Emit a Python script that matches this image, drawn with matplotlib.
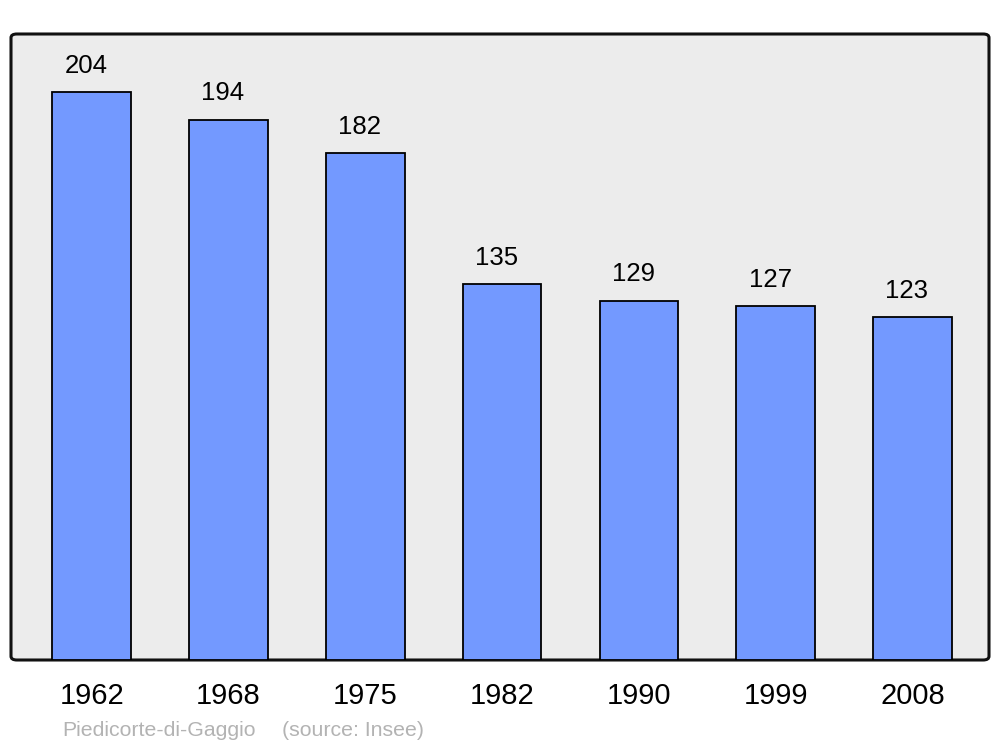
import matplotlib.pyplot as plt
from matplotlib.patches import FancyBboxPatch

# data
years = ["1962", "1968", "1975", "1982", "1990", "1999", "2008"]
population = [204, 194, 182, 135, 129, 127, 123]

plt.rcParams['font.family'] = ['Liberation Sans', 'DejaVu Sans']

fig = plt.figure(figsize=(10, 7.47), dpi=100)
ax = fig.add_axes([0.011, 1 - 660 / 747, 0.978, 626 / 747])
ax.set_facecolor('none')

# rounded frame behind the bars
frame = FancyBboxPatch((0, 0), 1, 1, boxstyle="round,pad=0,rounding_size=0.006",
                       transform=ax.transAxes, facecolor='#ececec',
                       edgecolor='#111111', linewidth=2.2, zorder=0, clip_on=False)
ax.add_patch(frame)

x = range(len(years))
ax.bar(x, population, width=0.575, color='#7399ff', edgecolor='black',
       linewidth=1.3, zorder=2)

for xi, v in zip(x, population):
    ax.annotate(str(v), (xi, v), xytext=(-4, 19), textcoords='offset points',
                ha='center', va='center', fontsize=18.5)

ax.set_xlim(-0.59, 6.56)
ax.set_ylim(0, 224.8)
ax.set_xticks(list(x))
ax.set_xticklabels(years, fontsize=21)
ax.tick_params(axis='x', length=0, pad=16)
ax.set_yticks([])
for s in ax.spines.values():
    s.set_visible(False)

fig.text(0.062, 1 - 731 / 747, "Piedicorte-di-Gaggio", color='#b3b3b3',
         fontsize=15.3, va='center', ha='left')
fig.text(0.282, 1 - 731 / 747, "(source: Insee)", color='#b3b3b3',
         fontsize=15.3, va='center', ha='left')

fig.savefig("out.png", dpi=100)
